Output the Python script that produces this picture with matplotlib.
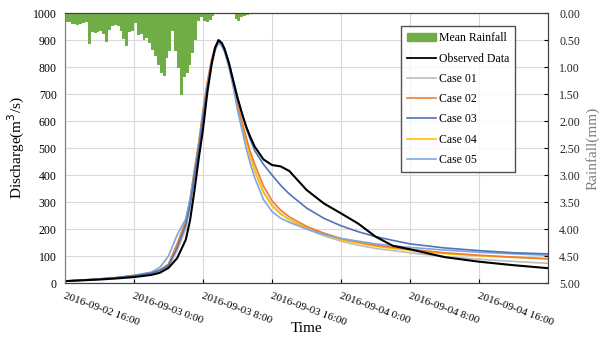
import numpy as np
import matplotlib.pyplot as plt
from matplotlib.patches import Patch
from matplotlib.lines import Line2D

# -------------------------------------------------------------------
# DATA (hours after 2016-09-02 16:00)
# -------------------------------------------------------------------
hours = [0, 2, 4, 6, 8, 10, 11, 12, 13, 14, 14.5, 15, 15.5, 16, 16.5, 17, 17.4,
         17.8, 18.2, 18.5, 19, 19.5, 20, 20.5, 21, 21.5, 22, 23, 24, 25, 26, 28, 30,
         32, 34, 36, 38, 40, 44, 48, 52, 56]

observed = [7, 10, 13, 17, 22, 30, 38, 56, 92, 160, 232, 340, 460, 569, 705, 810, 872,
            900, 888, 866, 815, 750, 685, 630, 580, 540, 505, 458, 437, 432, 415, 345, 295,
            258, 220, 172, 138, 125, 96, 79, 66, 55]

case01 = [7, 10, 14, 19, 26, 36, 44, 60, 120, 200, 280, 390, 490, 610, 720, 810, 862,
          893, 882, 866, 812, 738, 655, 595, 530, 470, 420, 340, 290, 258, 235, 200, 175,
          155, 140, 128, 120, 112, 98, 88, 80, 73]
case02 = [7, 11, 15, 20, 28, 38, 48, 70, 145, 230, 310, 420, 520, 640, 745, 830, 874,
          895, 882, 864, 810, 735, 660, 600, 540, 485, 440, 360, 305, 270, 245, 210, 185,
          165, 152, 140, 132, 125, 112, 103, 96, 90]
case03 = [7, 11, 15, 20, 27, 37, 47, 65, 130, 215, 290, 395, 495, 615, 725, 815, 865,
          896, 886, 870, 818, 752, 690, 630, 575, 530, 490, 440, 400, 362, 330, 278, 240,
          212, 190, 172, 158, 145, 130, 120, 112, 108]
case04 = [7, 11, 15, 20, 28, 38, 48, 68, 140, 225, 300, 410, 510, 630, 738, 825, 870,
          894, 880, 862, 806, 730, 650, 590, 525, 465, 415, 335, 285, 255, 235, 205, 180,
          160, 148, 136, 128, 121, 109, 101, 95, 89]
case05 = [8, 11, 15, 20, 28, 40, 58, 100, 178, 238, 308, 405, 505, 625, 730, 815, 862,
          890, 876, 856, 800, 728, 640, 570, 500, 440, 390, 310, 265, 240, 225, 200, 180,
          165, 155, 145, 138, 132, 122, 114, 108, 103]

# mean rainfall (mm), 20-minute steps from 2016-09-02 16:00
rain_step = 1 / 3
rainfall = [0.17, 0.17, 0.20, 0.20, 0.22, 0.20, 0.19, 0.17, 0.57, 0.35, 0.37, 0.35,
            0.33, 0.39, 0.54, 0.31, 0.24, 0.22, 0.24, 0.33, 0.48, 0.61, 0.35, 0.33,
            0.19, 0.41, 0.39, 0.50, 0.46, 0.56, 0.69, 0.80, 0.96, 1.11, 1.17, 0.83,
            0.70, 0.33, 0.70, 1.02, 1.52, 1.19, 1.11, 0.96, 0.74, 0.50, 0.15, 0.07,
            0.15, 0.17, 0.13, 0.06, 0.02, 0.0, 0.0, 0.0, 0.0, 0.0, 0.02, 0.11,
            0.15, 0.07, 0.06, 0.04, 0.02]

tick_hours = [0, 8, 16, 24, 32, 40, 48]
tick_labels = ["2016-09-02 16:00", "2016-09-03 0:00", "2016-09-03 8:00",
               "2016-09-03 16:00", "2016-09-04 0:00", "2016-09-04 8:00",
               "2016-09-04 16:00"]

# -------------------------------------------------------------------
# PLOT
# -------------------------------------------------------------------
plt.rcParams["font.family"] = ["Liberation Serif", "DejaVu Serif"]

GREEN = "#70AD47"
colors = {
    "Case 01": "#BDBDBD",
    "Case 02": "#ED7D31",
    "Case 03": "#4F74B8",
    "Case 04": "#FFC000",
    "Case 05": "#7FA6DE",
}

fig = plt.figure(figsize=(6.04, 3.46), dpi=100)
ax = fig.add_axes([0.1076, 0.182, 0.7997, 0.7804])

ax.plot(hours, case01, color=colors["Case 01"], lw=1.2)
ax.plot(hours, case04, color=colors["Case 04"], lw=1.2)
ax.plot(hours, case02, color=colors["Case 02"], lw=1.2)
ax.plot(hours, case05, color=colors["Case 05"], lw=1.2)
ax.plot(hours, case03, color=colors["Case 03"], lw=1.2)
ax.plot(hours, observed, color="black", lw=1.5)

ax.set_xlim(0, 56)
ax.set_ylim(0, 1000)
ax.set_yticks(range(0, 1001, 100))
ax.set_xticks(tick_hours)
ax.set_xticklabels(tick_labels, rotation=-20, ha="left", va="top",
                   rotation_mode="anchor", fontsize=8)
ax.tick_params(axis="y", length=0, labelsize=8.5, pad=6)
ax.tick_params(axis="x", direction="in", length=3, pad=6)
ax.grid(True, color="#D9D9D9", lw=0.8)
ax.set_axisbelow(True)
for side in ["left", "right", "top", "bottom"]:
    ax.spines[side].set_color("#404040")
ax.spines["left"].set_color("#808080")

ax.set_ylabel("Discharge(m$^3$/s)", fontsize=11, labelpad=4)
ax.set_xlabel("Time", fontsize=11, labelpad=-4)

# rainfall on inverted right axis
ax2 = ax.twinx()
rain_x = np.arange(len(rainfall)) * rain_step
ax2.bar(rain_x, rainfall, width=rain_step, align="edge", color=GREEN, lw=0)
ax2.set_ylim(5, 0)
ax2.set_yticks(np.arange(0, 5.01, 0.5))
ax2.set_yticklabels([f"{v:.2f}" for v in np.arange(0, 5.01, 0.5)])
ax2.tick_params(axis="y", direction="in", length=3, labelsize=8.5, pad=8,
                labelcolor="#262626")
ax2.set_ylabel("Rainfall(mm)", fontsize=11, color="#7F7F7F", labelpad=4)
for side in ["left", "right", "top", "bottom"]:
    ax2.spines[side].set_color("#404040")
ax2.spines["left"].set_color("#808080")

handles = [Patch(facecolor=GREEN, edgecolor=GREEN, label="Mean Rainfall"),
           Line2D([], [], color="black", lw=1.3, label="Observed Data")]
for name in ["Case 01", "Case 02", "Case 03", "Case 04", "Case 05"]:
    handles.append(Line2D([], [], color=colors[name], lw=1.2, label=name))
leg = ax2.legend(handles=handles, loc="upper left", bbox_to_anchor=(0.684, 0.972),
                 fontsize=8.5, frameon=True, fancybox=False, handlelength=2.4,
                 handletextpad=0.3, borderpad=0.5, labelspacing=0.7)
leg.get_frame().set_edgecolor("#262626")
leg.get_frame().set_linewidth(1.0)

plt.savefig("out.png", dpi=100)
